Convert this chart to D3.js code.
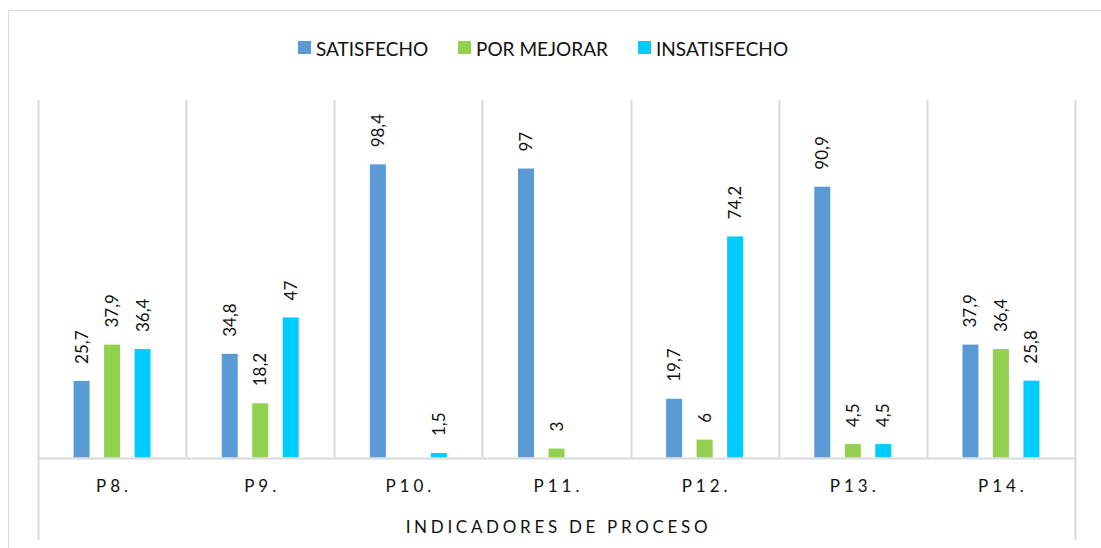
<!DOCTYPE html>
<html>
<head>
<meta charset="utf-8">
<script src="https://cdn.jsdelivr.net/npm/d3@7"></script>
<style>
  html, body { margin: 0; padding: 0; background: #fff; }
  svg { display: block; }
</style>
</head>
<body>
<div id="chart"></div>
<script>
// data
const categories = ['P8.', 'P9.', 'P10.', 'P11.', 'P12.', 'P13.', 'P14.'];
const seriesNames = ['SATISFECHO', 'POR MEJORAR', 'INSATISFECHO'];
const satisfecho = [25.7, 34.8, 98.4, 97, 19.7, 90.9, 37.9];
const porMejorar = [37.9, 18.2, null, 3, 6, 4.5, 36.4];
const insatisfecho = [36.4, 47, 1.5, null, 74.2, 4.5, 25.8];
const axisTitle = 'INDICADORES DE PROCESO';

const FONT = 'Lato, "Open Sans", sans-serif';
const COLORS = ['#5B9BD5', '#92D050', '#00CCFF'];
const GRID = '#D9D9D9';
const INK = '#111';

const W = 1101, H = 548;
const m = { t: 100, r: 26, b: 90.5, l: 38 };
const svg = d3.select('#chart').append('svg').attr('width', W).attr('height', H);

// chart area border
svg.append('rect').attr('x', 8.5).attr('y', 10.5).attr('width', W + 10).attr('height', H + 10)
  .attr('fill', 'none').attr('stroke', GRID).attr('stroke-width', 1);

const x0 = d3.scaleBand().domain(categories).range([m.l, W - m.r]).padding(0);
const x1 = d3.scaleBand().domain(seriesNames).range([-38.5, 38.5]).paddingInner(0.475).paddingOuter(0);
const y = d3.scaleLinear().domain([0, 120]).range([H - m.b, m.t]);

const rows = [];
categories.forEach((c, i) => {
  [satisfecho, porMejorar, insatisfecho].forEach((arr, j) => {
    rows.push({ c, s: seriesNames[j], v: arr[i], col: COLORS[j] });
  });
});

// category separators
const bounds = categories.map((c) => x0(c)).concat([x0.range()[1]]);
svg.append('g').selectAll('line').data(bounds).join('line')
  .attr('x1', (d) => Math.round(d) + 0.5).attr('x2', (d) => Math.round(d) + 0.5)
  .attr('y1', m.t)
  .attr('y2', (d, i) => (i === 0 || i === bounds.length - 1) ? 540 : y(0))
  .attr('stroke', GRID).attr('stroke-width', 2);

// bars
const mid = (d) => x0(d.c) + x0.bandwidth() / 2;
svg.append('g').selectAll('rect').data(rows.filter((d) => d.v != null)).join('rect')
  .attr('x', (d) => mid(d) + x1(d.s)).attr('width', x1.bandwidth())
  .attr('y', (d) => y(d.v)).attr('height', (d) => y(0) - y(d.v))
  .attr('fill', (d) => d.col);

// baseline
svg.append('line').attr('x1', m.l).attr('x2', W - m.r).attr('y1', y(0) + 1).attr('y2', y(0) + 1)
  .attr('stroke', GRID).attr('stroke-width', 2);

// value labels
const fmt = (v) => String(v).replace('.', ',');
svg.append('g').selectAll('text').data(rows.filter((d) => d.v != null)).join('text')
  .attr('transform', (d) => `translate(${mid(d) + x1(d.s) + x1.bandwidth() / 2 + 6},${y(d.v) - 17}) rotate(-90)`)
  .attr('font-family', FONT).attr('font-size', 17).attr('fill', INK)
  .text((d) => fmt(d.v));

// category labels
svg.append('g').selectAll('text').data(categories).join('text')
  .attr('x', (d) => x0(d) + x0.bandwidth() / 2 + 2).attr('y', 492)
  .attr('text-anchor', 'middle').attr('letter-spacing', '4px')
  .attr('font-family', FONT).attr('font-size', 17).attr('fill', INK)
  .text((d) => d);

// axis title
svg.append('text').attr('x', (m.l + W - m.r) / 2 + 2).attr('y', 533)
  .attr('text-anchor', 'middle').attr('letter-spacing', '3.7px')
  .attr('font-family', FONT).attr('font-size', 17).attr('fill', INK)
  .text(axisTitle);

// legend
const legX = [298, 458, 638];
const leg = svg.append('g');
seriesNames.forEach((s, i) => {
  leg.append('rect').attr('x', legX[i]).attr('y', 41).attr('width', 13).attr('height', 13).attr('fill', COLORS[i]);
  leg.append('text').attr('x', legX[i] + 18).attr('y', 55.5)
    .attr('font-family', FONT).attr('font-size', 19).attr('fill', INK).text(s);
});
</script>
</body>
</html>
